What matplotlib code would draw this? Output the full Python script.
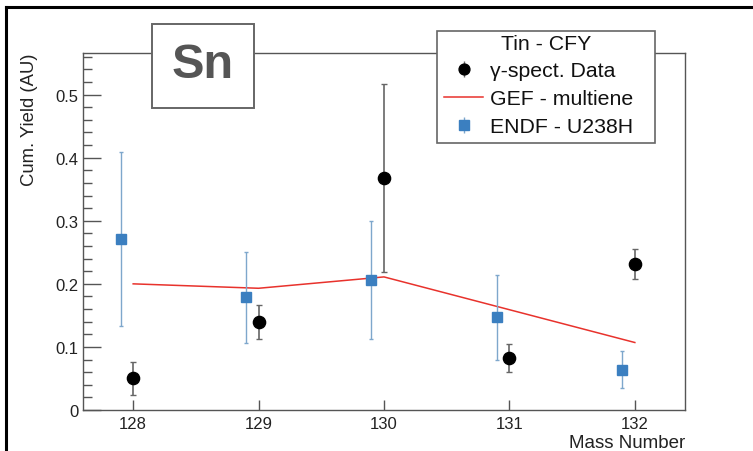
import matplotlib
matplotlib.use("Agg")
import matplotlib.pyplot as plt
from matplotlib.lines import Line2D
from matplotlib.patches import Rectangle
from matplotlib.ticker import MultipleLocator, FixedLocator, FixedFormatter

# ---- data -------------------------------------------------------------
mass = [128, 129, 130, 131, 132]
gamma_yield = [0.050, 0.139, 0.368, 0.083, 0.232]
gamma_err = [0.026, 0.027, 0.149, 0.022, 0.024]
gef_yield = [0.200, 0.193, 0.211, 0.159, 0.107]
endf_yield = [0.271, 0.179, 0.206, 0.147, 0.064]
endf_err = [0.138, 0.072, 0.094, 0.067, 0.029]

x_ticks = [128, 129, 130, 131, 132]
x_tick_labels = ["128", "129", "130", "131", "132"]
y_ticks = [0, 0.1, 0.2, 0.3, 0.4, 0.5]
y_tick_labels = ["0", "0.1", "0.2", "0.3", "0.4", "0.5"]

series_labels = ["\u03b3-spect. Data", "GEF - multiene", "ENDF - U238H"]
legend_title = "Tin - CFY"
element = "Sn"

# ---- style ------------------------------------------------------------
plt.rcParams["font.family"] = ["Liberation Sans", "DejaVu Sans"]
W, H = 753, 452
fig = plt.figure(figsize=(W / 100, H / 100), dpi=100)
fig.patch.set_facecolor("white")

def fx(px):
    return px / W

def fy(py):
    return 1 - py / H

ax = fig.add_axes([fx(83), fy(411), fx(685) - fx(83), fy(54) - fy(411)])
ax.set_xlim(127.6, 132.4)
ax.set_ylim(0, 0.566)

axis_col = "#555555"
for s in ax.spines.values():
    s.set_color(axis_col)
    s.set_linewidth(1.0)

blue = "#3b7fc0"
blue_err = "#7ea7cc"
gam_err_col = "#666666"
red = "#e8322c"

ENDF_SHIFT = 0.1
endf_x = [m - ENDF_SHIFT for m in mass]

ax.errorbar(endf_x, endf_yield, yerr=endf_err, fmt="s", color=blue,
            ms=7.8, ecolor=blue_err, elinewidth=1.0, capsize=1.6,
            capthick=1.0, zorder=3)
ax.plot(mass, gef_yield, color=red, lw=1.1, zorder=2)
ax.errorbar(mass, gamma_yield, yerr=gamma_err, fmt="o", color="black",
            ms=8.8, ecolor=gam_err_col, elinewidth=1.2, capsize=2.4,
            capthick=1.0, zorder=4)

ax.xaxis.set_major_locator(FixedLocator(x_ticks))
ax.xaxis.set_major_formatter(FixedFormatter(x_tick_labels))
ax.yaxis.set_major_locator(FixedLocator(y_ticks))
ax.yaxis.set_major_formatter(FixedFormatter(y_tick_labels))
ax.yaxis.set_minor_locator(MultipleLocator(0.02))

ax.tick_params(axis="y", which="major", direction="in", length=13, width=1.0,
               color=axis_col, labelsize=12, pad=3.5, labelcolor="#222222")
ax.tick_params(axis="y", which="minor", direction="in", length=6.5, width=1.0,
               color=axis_col)
ax.tick_params(axis="x", which="major", direction="in", length=7.5, width=1.0,
               color=axis_col, labelsize=12, pad=4, labelcolor="#222222")

ax.set_xlabel("Mass Number", fontsize=13.5, loc="right", color="#222222")
ax.xaxis.set_label_coords(1.0, -0.066)
ax.set_ylabel("Cum. Yield (AU)", fontsize=13.3, loc="top", color="#222222")
ax.yaxis.set_label_coords(-0.074, 1.0)

# element tag box
fig.add_artist(Rectangle((fx(152), fy(109)), fx(254) - fx(152), fy(25) - fy(109),
                         transform=fig.transFigure, facecolor="white",
                         edgecolor="#666666", lw=1.4, zorder=5))
fig.text(fx(203), fy(66), element, fontsize=35, fontweight="bold",
         color="#555555", ha="center", va="center", zorder=6)

# legend
fig.add_artist(Rectangle((fx(437), fy(144)), fx(655) - fx(437), fy(32) - fy(144),
                         transform=fig.transFigure, facecolor="white",
                         edgecolor="#666666", lw=1.2, zorder=5))
fig.text(fx(546), fy(44), legend_title, fontsize=15.3, color="#111111",
         ha="center", va="center", zorder=7)

gam_handle = (Line2D([], [], ls="none", marker="|", ms=11, mew=1.0, color=gam_err_col),
              Line2D([], [], ls="none", marker="o", ms=7.8, color="black"))
gef_handle = Line2D([], [], color=red, lw=1.1)
endf_handle = (Line2D([], [], ls="none", marker="|", ms=11, mew=1.0, color=blue_err),
               Line2D([], [], ls="none", marker="s", ms=7.4, color=blue))

leg = fig.legend([gam_handle, gef_handle, endf_handle], series_labels, loc="upper left",
                 bbox_to_anchor=(fx(444), fy(62)), bbox_transform=fig.transFigure,
                 frameon=False, fontsize=15.3, borderpad=0, borderaxespad=0,
                 handlelength=1.85, handletextpad=0.33, labelspacing=0.43)
leg.set_zorder(7)
for t in leg.get_texts():
    t.set_color("#111111")

# canvas frame
fig.add_artist(Line2D([fx(6), fx(6)], [0, fy(8)], transform=fig.transFigure,
                      color="black", lw=2.2))
fig.add_artist(Line2D([fx(6), 1], [fy(8), fy(8)], transform=fig.transFigure,
                      color="black", lw=2.2))

fig.savefig("out.png", dpi=100)
